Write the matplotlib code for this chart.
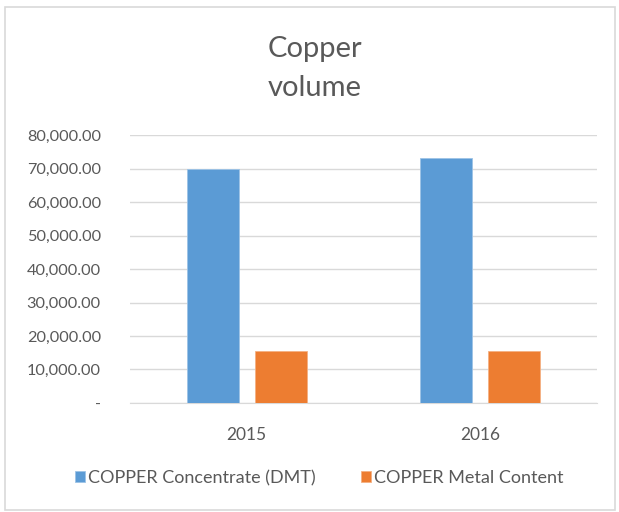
import numpy as np
import matplotlib
matplotlib.use('Agg')
import matplotlib.pyplot as plt
from matplotlib.ticker import FuncFormatter
from matplotlib.patches import Rectangle

years = ['2015', '2016']
concentrate = [70000, 73100]
metal = [15600, 15600]
series_names = ['COPPER Concentrate (DMT)', 'COPPER Metal Content']
colors = ['#5B9BD5', '#ED7D31']

plt.rcParams['font.family'] = ['Lato', 'DejaVu Sans']

fig = plt.figure(figsize=(6.19, 5.12), dpi=100)
ax = fig.add_axes([0.21, 0.213, 0.754, 0.523])

x = np.arange(len(years))
w = 0.223
off = 0.146
ax.bar(x - off, concentrate, w, color=colors[0], edgecolor='#9DC3E6', linewidth=0.6,
       label=series_names[0], zorder=3)
ax.bar(x + off, metal, w, color=colors[1], edgecolor='#F4B183', linewidth=0.6,
       label=series_names[1], zorder=3)

ax.set_xlim(-0.5, 1.5)
ax.set_ylim(0, 80000)
ax.set_yticks(np.arange(0, 80001, 10000))
ax.yaxis.set_major_formatter(FuncFormatter(lambda v, p: '-' if v == 0 else f'{v:,.2f}'))
ax.set_xticks(x)
ax.set_xticklabels(years)
ax.grid(axis='y', color='#d9d9d9', linewidth=1, zorder=0)
for s in ['top', 'right', 'left']:
    ax.spines[s].set_visible(False)
ax.spines['bottom'].set_color('#d9d9d9')
ax.tick_params(length=0, colors='#595959')
ax.tick_params(axis='x', labelsize=12.5, pad=17)
ax.tick_params(axis='y', labelsize=11.7, pad=21)

fig.text(0.509, 0.866, 'Copper\nvolume', ha='center', va='center', fontsize=21,
         color='#595959', linespacing=1.65)

fig.legend(loc='center', bbox_to_anchor=(0.516, 0.066), ncol=2, frameon=False,
           fontsize=13, labelcolor='#595959', handlelength=0.55, handleheight=0.55,
           handletextpad=0.15, columnspacing=2.55)

fig.patches.append(Rectangle((0.008, 0.004), 0.985, 0.982, transform=fig.transFigure,
                             fill=False, edgecolor='#d9d9d9', linewidth=1.2))

fig.savefig('out.png', dpi=100)
